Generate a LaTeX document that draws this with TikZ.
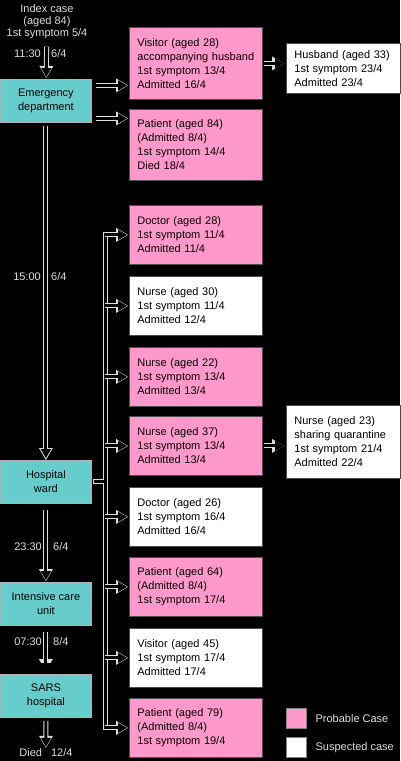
\documentclass[tikz,border=0pt]{standalone}
\usepackage{fontspec}
\setmainfont{Liberation Sans}
\usetikzlibrary{arrows.meta,positioning}
\definecolor{probable}{HTML}{FF99CC}
\definecolor{site}{HTML}{66CCCC}
\definecolor{linegrey}{HTML}{DDDDDD}

\begin{document}
\begin{tikzpicture}[
  x=1pt,
  y=-1pt,
  font=\fontsize{11}{14}\selectfont,
  casebox/.style={
    draw=gray!60!black,
    line width=0.8pt,
    anchor=north west,
    align=left,
    inner xsep=8pt,
    text width=117pt
  },
  site/.style={
    draw=gray!60,
    line width=0.8pt,
    fill=site,
    anchor=north west,
    align=center,
    inner sep=1pt,
    minimum width=91pt,
    minimum height=43pt
  },
  timing/.style={
    text=linegrey,
    inner sep=0pt
  },
  spread/.style={
    draw=linegrey,
    line width=5pt,
    -{Triangle[length=12pt,width=14pt,line width=0pt]},
    postaction={
      draw=black,
      line width=3pt,
      shorten >=2pt,
      -{Triangle[length=9pt,width=10.5pt,line width=0pt]}
    }
  },
  bus/.style={
    draw=linegrey,
    line width=1pt,
    double=black,
    double distance=3pt,
    line cap=rect
  }
]
  \fill[black] (0,0) rectangle (400,761);
  \useasboundingbox (0,0) rectangle (400,761);

  \node[timing, align=center, anchor=north, font=\fontsize{11}{12}\selectfont]
    (idx) at (47,4) {Index case\\(aged 84)\\1st symptom 5/4};
  \node[site] (ed) at (0,79) {Emergency\\department};
  \node[site] (ward) at (0,460) {Hospital\\ward};
  \node[site] (icu) at (0,582) {Intensive care\\unit};
  \node[site] (sars) at (0,674) {SARS\\hospital};
  \node[timing] (died) at (46,753) {Died\hspace{9pt}12/4};

  \node[timing, anchor=east] (t1) at (41,54) {11:30};
  \node[timing, anchor=west] (d1) at (51,54) {6/4};
  \node[timing, anchor=east] (t2) at (41,277) {15:00};
  \node[timing, anchor=west] (d2) at (51,277) {6/4};
  \node[timing, anchor=east] (t3) at (42,547) {23:30};
  \node[timing, anchor=west] (d3) at (53,547) {6/4};
  \node[timing, anchor=east] (t4) at (42,642) {07:30};
  \node[timing, anchor=west] (d4) at (53,642) {8/4};

  \node[casebox, fill=probable, minimum height=72pt] (vis28) at (129,27)
    {Visitor (aged 28)\\accompanying husband\\1st symptom 13/4\\Admitted 16/4};
  \node[casebox, fill=probable, minimum height=71pt] (pat84) at (129,109)
    {Patient (aged 84)\\(Admitted 8/4)\\1st symptom 14/4\\Died 18/4};
  \node[casebox, fill=white, text width=98pt, minimum height=50pt] (hus33) at (286,43)
    {Husband (aged 33)\\1st symptom 23/4\\Admitted 23/4};

  \node[casebox, fill=probable, minimum height=59pt] (doc28) at (129,205)
    {Doctor (aged 28)\\1st symptom 11/4\\Admitted 11/4};
  \node[casebox, fill=white, minimum height=59pt] (nur30) at (129,276)
    {Nurse (aged 30)\\1st symptom 11/4\\Admitted 12/4};
  \node[casebox, fill=probable, minimum height=59pt] (nur22) at (129,347)
    {Nurse (aged 22)\\1st symptom 13/4\\Admitted 13/4};
  \node[casebox, fill=probable, minimum height=59pt] (nur37) at (129,416)
    {Nurse (aged 37)\\1st symptom 13/4\\Admitted 13/4};
  \node[casebox, fill=white, minimum height=59pt] (doc26) at (129,487)
    {Doctor (aged 26)\\1st symptom 16/4\\Admitted 16/4};
  \node[casebox, fill=probable, minimum height=59pt] (pat64) at (129,557)
    {Patient (aged 64)\\(Admitted 8/4)\\1st symptom 17/4};
  \node[casebox, fill=white, minimum height=59pt] (vis45) at (129,628)
    {Visitor (aged 45)\\1st symptom 17/4\\Admitted 17/4};
  \node[casebox, fill=probable, minimum height=59pt] (pat79) at (129,698)
    {Patient (aged 79)\\(Admitted 8/4)\\1st symptom 19/4};
  \node[casebox, fill=white, text width=98pt, minimum height=73pt] (nur23) at (286,405)
    {Nurse (aged 23)\\sharing quarantine\\1st symptom 21/4\\Admitted 22/4};

  \node[draw=gray, fill=probable, anchor=north west, inner sep=0pt, minimum size=20pt]
    (keyprob) at (286,708) {};
  \node[draw=gray, fill=white, anchor=north west, inner sep=0pt, minimum size=20pt]
    (keysusp) at (286,737) {};
  \node[timing, right=9pt of keyprob] (keyprobtext) {Probable Case};
  \node[timing, right=9pt of keysusp] (keysusptext) {Suspected case};

  \coordinate (busx) at (105,0);

  \draw[spread, shorten <=8pt, shorten >=1pt] (idx) -- (ed);
  \draw[spread, shorten <=3pt] (ed) -- (ward);
  \draw[spread, shorten <=6pt, shorten >=1pt] (ward) -- (icu);
  \draw[spread, shorten <=6pt, shorten >=3pt] (icu) -- (sars);
  \draw[spread, shorten <=3pt, shorten >=1pt] (sars) -- (died);

  \draw[spread, shorten <=4pt, shorten >=1pt]
    ([yshift=15.5pt]ed.east) -- ([yshift=15.5pt]ed.east -| vis28.west);
  \draw[spread, shorten <=4pt, shorten >=1pt]
    ([yshift=-17.5pt]ed.east) -- ([yshift=-17.5pt]ed.east -| pat84.west);
  \draw[spread, shorten <=1pt, shorten >=2pt] (vis28.east) -- (vis28.east -| hus33.west);
  \draw[spread, shorten <=1pt, shorten >=2pt] (nur37.east) -- (nur37.east -| nur23.west);

  \draw[bus]
    (doc28.west -| busx) -- (pat79.west -| busx)
    ([xshift=4pt]ward.east) -- (ward.east -| busx);
  \foreach \case in {doc28,nur30,nur22,nur37,doc26,pat64,vis45,pat79}
    \draw[spread, shorten >=1pt] (\case.west -| busx) -- (\case.west);
\end{tikzpicture}
\end{document}
